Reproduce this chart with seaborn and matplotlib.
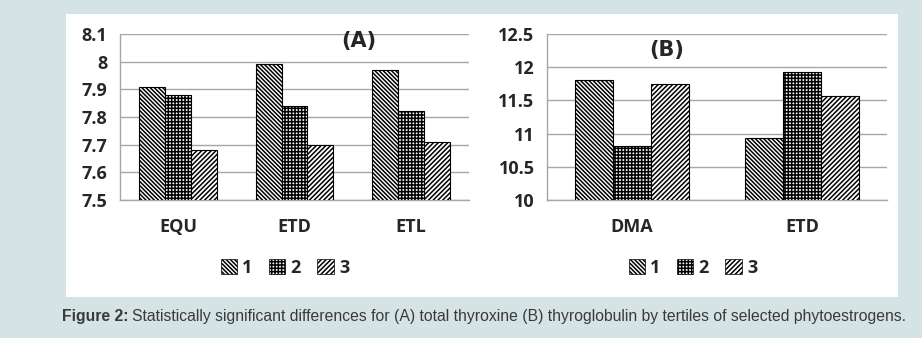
import matplotlib
matplotlib.use("Agg")
import matplotlib.pyplot as plt
import seaborn as sns
import pandas as pd
from matplotlib.patches import Rectangle, Patch

# ---- data ----
cats_a = ["EQU", "ETD", "ETL"]
t1_a = [7.91, 7.99, 7.97]
t2_a = [7.88, 7.84, 7.82]
t3_a = [7.68, 7.70, 7.71]

cats_b = ["DMA", "ETD"]
t1_b = [11.80, 10.93]
t2_b = [10.82, 11.93]
t3_b = [11.74, 11.57]

tertiles = ["1", "2", "3"]
yticks_a = [7.5, 7.6, 7.7, 7.8, 7.9, 8.0, 8.1]
yticklabels_a = ["7.5", "7.6", "7.7", "7.8", "7.9", "8", "8.1"]
yticks_b = [10, 10.5, 11, 11.5, 12, 12.5]
yticklabels_b = ["10", "10.5", "11", "11.5", "12", "12.5"]
caption_bold = "Figure 2:"
caption_rest = "Statistically significant differences for (A) total thyroxine (B) thyroglobulin by tertiles of selected phytoestrogens."


def long_df(cats, series):
    rows = []
    for t, vals in zip(tertiles, series):
        for c, v in zip(cats, vals):
            rows.append({"cat": c, "tertile": t, "value": v})
    return pd.DataFrame(rows)


df_a = long_df(cats_a, [t1_a, t2_a, t3_a])
df_b = long_df(cats_b, [t1_b, t2_b, t3_b])

sns.set_theme(style="white")
plt.rcParams["font.family"] = ["Open Sans", "DejaVu Sans"]
plt.rcParams["hatch.linewidth"] = 1.1
plt.rcParams["hatch.color"] = "black"

BG = "#d5e3e4"
GRID = "#a6a6a6"
hatches = ["\\" * 8, "+" * 5, "/" * 7]

fig = plt.figure(figsize=(9.22, 3.38), dpi=100)
fig.patch.set_facecolor(BG)
fig.patches.append(Rectangle((66 / 922, 1 - 297 / 338), (898 - 66) / 922, (297 - 14) / 338,
                             transform=fig.transFigure, facecolor="white", edgecolor="none", zorder=-5))

ax_a = fig.add_axes([120 / 922, 1 - 200 / 338, (469 - 120) / 922, (200 - 34) / 338], zorder=2)
ax_b = fig.add_axes([547 / 922, 1 - 200 / 338, (887 - 547) / 922, (200 - 34) / 338], zorder=2)


def style_axis(ax, df, cats, yticks, ylabels, label, label_xy, legend_x):
    sns.barplot(data=df, x="cat", y="value", hue="tertile", order=cats, hue_order=tertiles,
                ax=ax, width=0.67, legend=False, errorbar=None, zorder=3)
    for cont, h in zip(ax.containers, hatches):
        for bar in cont:
            bar.set_facecolor("white")
            bar.set_edgecolor("black")
            bar.set_hatch(h)
            bar.set_linewidth(0.8)
    ax.set_ylim(yticks[0], yticks[-1])
    ax.set_xlim(-0.5, len(cats) - 0.5)
    ax.set_yticks(yticks)
    ax.set_yticklabels(ylabels, fontsize=13, fontweight="bold")
    ax.set_xticks(range(len(cats)))
    ax.set_xticklabels(cats, fontsize=13, fontweight="bold")
    ax.set_xticks([i - 0.5 for i in range(len(cats) + 1)], minor=True)
    ax.tick_params(axis="x", which="major", length=0, pad=13)
    ax.tick_params(axis="x", which="minor", length=5, color=GRID, direction="out")
    ax.tick_params(axis="y", length=6, color=GRID, direction="out", pad=3)
    ax.yaxis.grid(True, color=GRID, linewidth=1.0, zorder=0)
    ax.set_axisbelow(True)
    for s in ["top", "right"]:
        ax.spines[s].set_visible(False)
    for s in ["left", "bottom"]:
        ax.spines[s].set_color(GRID)
        ax.spines[s].set_linewidth(1.0)
    ax.set_facecolor("none")
    ax.set_xlabel("")
    ax.set_ylabel("")
    ax.text(label_xy[0], label_xy[1], label, transform=ax.transAxes, ha="center", va="center",
            fontsize=15, fontweight="bold", family="DejaVu Sans", zorder=5)
    handles = [Patch(facecolor="white", edgecolor="black", linewidth=0.5, hatch=h, label=t)
               for h, t in zip(hatches, tertiles)]
    fig.legend(handles=handles, loc="center", bbox_to_anchor=(legend_x, 1 - 268 / 338),
               bbox_transform=fig.transFigure, ncol=3, frameon=False, handlelength=0.9,
               handleheight=0.9, handletextpad=0.3, columnspacing=0.9,
               prop={"size": 13, "weight": "bold"})


style_axis(ax_a, df_a, cats_a, yticks_a, yticklabels_a, "(A)", ((359 - 120) / 349, 1 - (41 - 34) / 166), 285 / 922)
style_axis(ax_b, df_b, cats_b, yticks_b, yticklabels_b, "(B)", ((667 - 547) / 340, 1 - (50 - 34) / 166), 693 / 922)

cap_family = ["Liberation Sans", "DejaVu Sans"]
t1 = fig.text(62 / 922, 1 - 317 / 338, caption_bold, fontsize=11.3, fontweight="bold", color="#3a3a3a",
              family=cap_family, va="center", ha="left")
fig.canvas.draw()
bb = t1.get_window_extent()
fig.text((bb.x1 + 3) / 922, 1 - 317 / 338, caption_rest, fontsize=11.3, color="#3a3a3a",
         family=cap_family, va="center", ha="left")

fig.savefig("out.png", dpi=100, facecolor=BG)
